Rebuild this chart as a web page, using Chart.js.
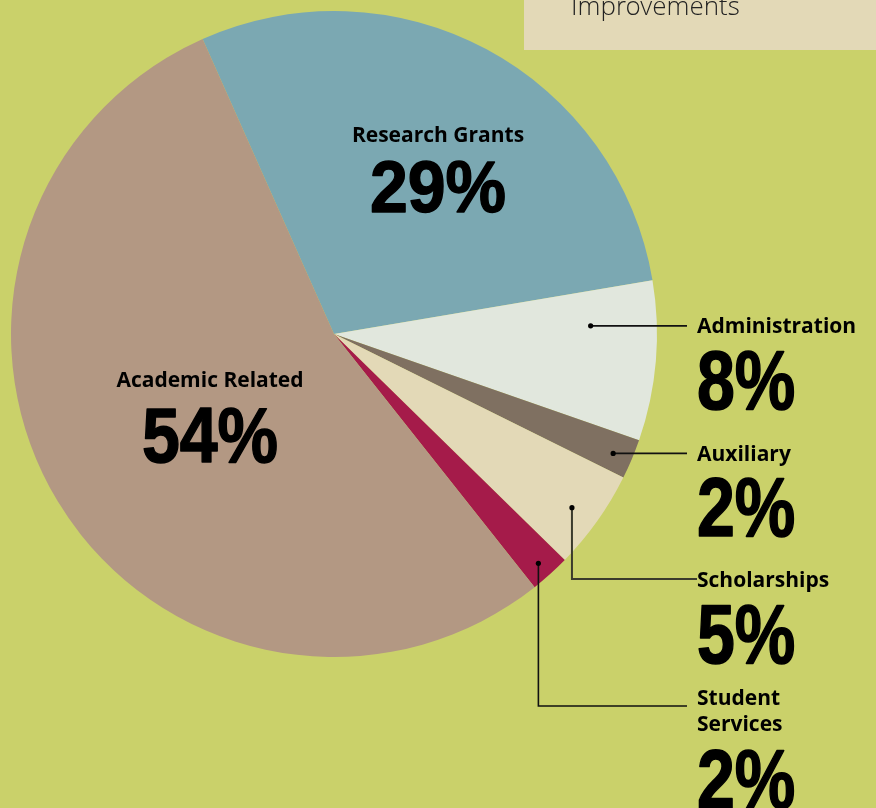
<!DOCTYPE html>
<html>
<head>
<meta charset="utf-8">
<script src="https://cdn.jsdelivr.net/npm/chart.js@4.4.0/dist/chart.umd.min.js"></script>
<style>
  html, body { margin: 0; padding: 0; background: #cad16a; }
  #wrap { position: relative; width: 876px; height: 808px; overflow: hidden; }
</style>
</head>
<body>
<div id="wrap"><canvas id="pie" width="876" height="808"></canvas></div>
<script>
const categories = ["Research Grants", "Administration", "Auxiliary", "Scholarships", "Student Services", "Academic Related"];
const shares = [29, 8, 2, 5, 2, 54];
const sliceColors = ["#7ba8b2", "#e1e7dd", "#7f7061", "#e3d9b7", "#a51b4a", "#b39883"];

// where each label sits; dots are placed along their slice (frac of angle, r of radius)
const labelLayout = [
  { x: 438, align: "center", labelY: 142, pctY: 212, squash: 0.88 },
  { x: 697, align: "left", labelY: 333, pctY: 409, dot: { frac: 0.27, r: 0.795 }, lineEnd: 687 },
  { x: 697, align: "left", labelY: 461, pctY: 536, dot: { frac: 0.55, r: 0.94 }, lineEnd: 687 },
  { x: 697, align: "left", labelY: 587, pctY: 663, dot: { frac: 0.54, r: 0.912 }, elbowY: 579, lineEnd: 697, lineColor: "#3b3b2c", lineWidth: 2 },
  { x: 697, align: "left", lines: ["Student", "Services"], labelY: 705, lineGap: 26, pctY: 808, dot: { frac: 0.54, r: 0.951 }, elbowY: 706, lineEnd: 687 },
  { x: 210, align: "center", labelY: 387, pctY: 462, squash: 0.93 }
];

const labelFont = "700 21px 'Open Sans', sans-serif";
// no narrow face installed, so squeeze Liberation Sans horizontally
const pctFont = "700 83px 'Liberation Sans', Arial, sans-serif";
const pctNarrow = 0.82;

const pieLabels = {
  id: "pieLabels",
  beforeDraw(chart) {
    const ctx = chart.ctx;
    ctx.save();
    // the cut-off note box at the top right
    ctx.fillStyle = "#e3d9b7";
    ctx.fillRect(524, 0, 352, 50);
    ctx.fillStyle = "#222";
    ctx.font = "300 26px 'Open Sans Light', 'Open Sans', sans-serif";
    ctx.textAlign = "left";
    ctx.textBaseline = "alphabetic";
    ctx.fillText("Improvements", 571, 15);
    ctx.restore();
  },
  afterDraw(chart) {
    const ctx = chart.ctx;
    const arcs = chart.getDatasetMeta(0).data;
    ctx.save();
    ctx.textBaseline = "alphabetic";
    labelLayout.forEach((lay, i) => {
      const arc = arcs[i];
      // leader line + dot
      if (lay.dot) {
        const p = arc.getProps(["x", "y", "startAngle", "endAngle", "outerRadius"], true);
        const a = p.startAngle + (p.endAngle - p.startAngle) * lay.dot.frac;
        const dx = p.x + Math.cos(a) * p.outerRadius * lay.dot.r;
        const dy = p.y + Math.sin(a) * p.outerRadius * lay.dot.r;
        ctx.strokeStyle = lay.lineColor || "#111";
        ctx.lineWidth = lay.lineWidth || 1.6;
        ctx.beginPath();
        ctx.moveTo(dx, dy);
        if (lay.elbowY) {
          ctx.lineTo(dx, lay.elbowY);
          ctx.lineTo(lay.lineEnd, lay.elbowY);
        } else {
          ctx.lineTo(lay.lineEnd, dy);
        }
        ctx.stroke();
        ctx.fillStyle = "#000";
        ctx.beginPath();
        ctx.arc(dx, dy, 2.6, 0, Math.PI * 2);
        ctx.fill();
      }
      ctx.fillStyle = "#000";
      ctx.textAlign = lay.align;
      ctx.font = labelFont;
      const lines = lay.lines || [categories[i]];
      lines.forEach((t, k) => ctx.fillText(t, lay.x, lay.labelY + k * (lay.lineGap || 0)));
      ctx.font = pctFont;
      const sq = lay.squash || 1;
      ctx.save();
      ctx.translate(lay.x, lay.pctY);
      ctx.scale(pctNarrow, sq);
      ctx.fillText(shares[i] + "%", 0, 0);
      // a touch heavier, like the black condensed face in the original
      ctx.strokeStyle = "#000";
      ctx.lineWidth = 1.6;
      ctx.lineJoin = "round";
      ctx.strokeText(shares[i] + "%", 0, 0);
      ctx.restore();
    });
    ctx.restore();
  }
};

const chart = new Chart(document.getElementById("pie"), {
  type: "pie",
  data: {
    labels: categories,
    datasets: [{
      data: shares,
      backgroundColor: sliceColors,
      borderWidth: 0
    }]
  },
  options: {
    responsive: false,
    animation: false,
    rotation: -24,
    layout: { padding: { left: 11, top: 11, right: 219, bottom: 151 } },
    plugins: {
      legend: { display: false },
      tooltip: { enabled: false }
    }
  },
  plugins: [pieLabels]
});
</script>
</body>
</html>
